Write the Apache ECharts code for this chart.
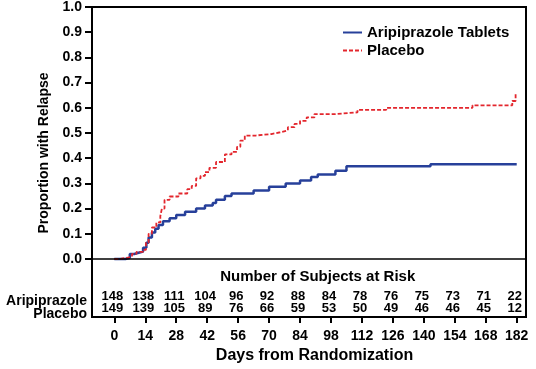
<!DOCTYPE html>
<html>
<head>
<meta charset="utf-8">
<script src="https://cdn.jsdelivr.net/npm/echarts@6/dist/echarts.min.js"></script>
<style>
html,body{margin:0;padding:0;background:#fff;}
#chart{width:536px;height:369px;}
</style>
</head>
<body>
<div id="chart"></div>
<script>
// ---- data ----
var seriesNames = ['Aripiprazole Tablets', 'Placebo'];
var aripiprazole = [
  [0,0],[5,0.005],[7,0.02],[9,0.025],[11,0.03],[13,0.045],[14.5,0.065],[15.5,0.085],
  [17,0.105],[18.5,0.12],[20,0.135],[22,0.15],[25,0.162],[28,0.175],[32,0.188],[37,0.2],
  [41,0.212],[44.5,0.222],[46,0.235],[50,0.25],[53,0.26],[63,0.272],[70,0.287],[77.5,0.3],
  [84,0.312],[89,0.325],[92,0.335],[100,0.35],[105,0.368],[143,0.376],[182,0.376]
];
var placebo = [
  [0,0],[2,0.005],[6,0.01],[8,0.02],[10,0.028],[13,0.036],[14.3,0.065],[15.5,0.1],
  [17,0.125],[19,0.145],[20.8,0.17],[21.5,0.2],[22.7,0.235],[25,0.248],[29,0.26],[33,0.277],
  [35,0.29],[37,0.32],[39,0.33],[41,0.345],[43,0.362],[46,0.385],[50,0.415],[53,0.425],
  [55.5,0.445],[57,0.47],[59,0.49],[64,0.496],[71,0.503],[75,0.51],[78.5,0.523],[81.5,0.536],
  [84,0.548],[87,0.562],[90.5,0.575],[100,0.582],[110,0.592],[123,0.6],[162,0.61],[180,0.627],
  [181.5,0.66]
];
var xTicks = [0,14,28,42,56,70,84,98,112,126,140,154,168,182];
var yTicks = [0,0.1,0.2,0.3,0.4,0.5,0.6,0.7,0.8,0.9,1.0];
var riskAripiprazole = [148,138,111,104,96,92,88,84,78,76,75,73,71,22];
var riskPlacebo = [149,139,105,89,76,66,59,53,50,49,46,46,45,12];
var riskRowLabels = ['Aripiprazole', 'Placebo'];
var riskTitle = 'Number of Subjects at Risk';
var xTitle = 'Days from Randomization';
var yTitle = 'Proportion with Relapse';

// ---- layout constants ----
var ROW_Y = [-0.147, -0.196];
var TITLE_Y = -0.069;
var FONT = '"Liberation Sans", Arial, sans-serif';

function riskData(arr, rowY){
  return arr.map(function(v,i){ return [xTicks[i], rowY, v]; });
}
function textScatter(data, size, offset){
  return {
    type: 'scatter', symbol: 'circle', symbolSize: 0, silent: true, z: 5,
    itemStyle: {opacity: 1, color: 'transparent'},
    data: data,
    label: {show: true, position: 'inside', offset: offset, formatter: function(p){ return p.data[2]; },
      fontFamily: FONT, fontWeight: 'bold', fontSize: size, color: '#000', opacity: 1}
  };
}

var chart = echarts.init(document.getElementById('chart'), null, {renderer:'canvas'});
var option = {
  animation: false,
  backgroundColor: '#fff',
  textStyle: {fontFamily: FONT},
  grid: {left: 92, top: 7, right: 10, bottom: 47, show: true, borderColor: '#000', borderWidth: 2, backgroundColor: 'transparent'},
  legend: {
    orient: 'vertical', left: 342, top: 25, padding: 0,
    itemWidth: 19, itemHeight: 14, itemGap: 3,
    data: seriesNames,
    itemStyle: {opacity: 0},
    textStyle: {fontFamily: FONT, fontWeight: 'bold', fontSize: 15, color: '#000'}
  },
  xAxis: {
    type: 'value', min: -10.1, max: 186.2,
    axisLine: {show: false, onZero: false},
    splitLine: {show: false},
    axisTick: {show: true, customValues: xTicks, length: 6, inside: false, lineStyle: {color: '#000', width: 2}},
    axisLabel: {customValues: xTicks, margin: 12, fontFamily: FONT, fontWeight: 'bold', fontSize: 14, color: '#000'},
    name: xTitle, nameLocation: 'middle', nameGap: 27,
    nameTextStyle: {fontFamily: FONT, fontWeight: 'bold', fontSize: 16, color: '#000', padding: [0,0,0,11]}
  },
  yAxis: {
    type: 'value', min: -0.2305, max: 1.0,
    axisLine: {show: false, onZero: false},
    splitLine: {show: false},
    axisTick: {show: true, customValues: yTicks, length: 7, inside: false, lineStyle: {color: '#000', width: 2}},
    axisLabel: {customValues: yTicks, margin: 10, fontFamily: FONT, fontWeight: 'bold', fontSize: 14, color: '#000',
      formatter: function(v){ return v.toFixed(1); }}
  },
  graphic: [
    {type: 'text', x: 44, y: 153, rotation: Math.PI/2,
      style: {text: yTitle, font: 'bold 14px ' + FONT, fill: '#000', align: 'center', verticalAlign: 'middle'}},
    {type: 'text', x: 87, y: 301,
      style: {text: riskRowLabels[0], font: 'bold 14px ' + FONT, fill: '#000', align: 'right', verticalAlign: 'middle'}},
    {type: 'text', x: 87, y: 314,
      style: {text: riskRowLabels[1], font: 'bold 14px ' + FONT, fill: '#000', align: 'right', verticalAlign: 'middle'}}
  ],
  series: [
    {
      name: seriesNames[0], type: 'line', step: 'end', showSymbol: false, symbol: 'none',
      data: aripiprazole, z: 3,
      lineStyle: {color: '#27409a', width: 2.5}, itemStyle: {color: '#27409a'},
      markLine: {silent: true, symbol: 'none', label: {show: false},
        lineStyle: {color: '#000', width: 1.5, type: 'solid'}, data: [{yAxis: 0}]}
    },
    {
      name: seriesNames[1], type: 'line', step: 'end', showSymbol: false, symbol: 'none',
      data: placebo, z: 4,
      lineStyle: {color: '#e3262d', width: 1.8, type: [4,2]}, itemStyle: {color: '#e3262d'}
    },
    textScatter([[92, TITLE_Y, riskTitle]], 15, [0,0]),
    textScatter(riskData(riskAripiprazole, ROW_Y[0]), 13, [-2,0]),
    textScatter(riskData(riskPlacebo, ROW_Y[1]), 13, [-2,0])
  ]
};
chart.setOption(option);
</script>
</body>
</html>
